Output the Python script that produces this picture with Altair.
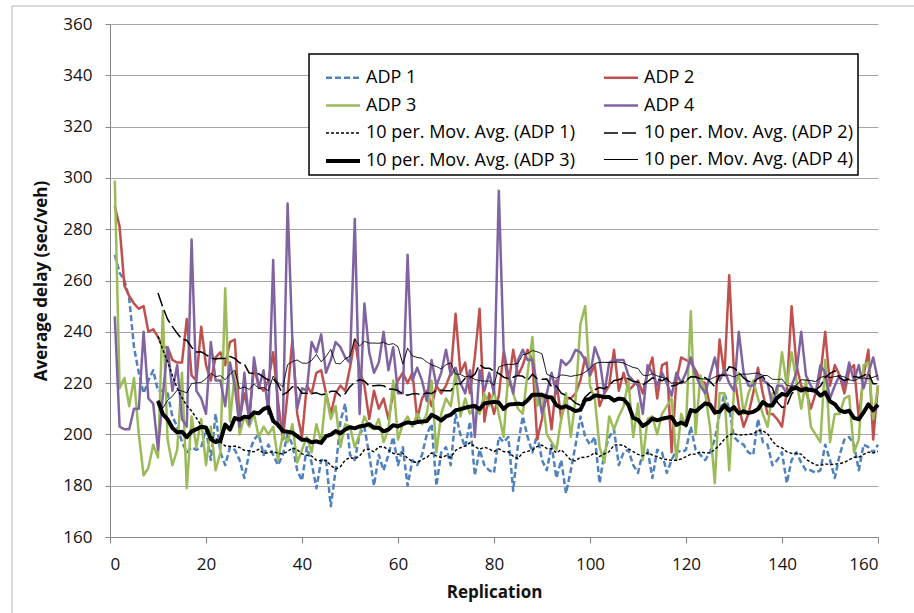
import altair as alt
import pandas as pd

# Replication index (x axis)
replication = list(range(1, 161))

# Average delay (sec/veh) per replication for each ADP
adp1 = [
    270, 263, 260, 253, 234, 224, 216, 221, 225, 217,
    217, 216, 207, 203, 197, 193, 195, 194, 195, 202,
    190, 208, 193, 188, 195, 194, 190, 183, 193, 198,
    200, 192, 196, 192, 188, 192, 200, 196, 186, 182,
    195, 189, 179, 190, 190, 172, 186, 205, 212, 192,
    190, 200, 203, 192, 180, 192, 186, 192, 199, 188,
    195, 180, 190, 188, 192, 200, 204, 180, 193, 195,
    188, 208, 200, 195, 205, 184, 194, 188, 186, 185,
    199, 197, 199, 178, 196, 207, 199, 193, 200, 190,
    186, 196, 183, 190, 177, 186, 196, 207, 199, 196,
    199, 181, 193, 199, 202, 188, 193, 194, 188, 185,
    193, 194, 183, 194, 193, 185, 190, 194, 193, 194,
    203, 194, 192, 190, 193, 198, 208, 216, 210, 199,
    197, 196, 193, 192, 206, 197, 196, 188, 190, 193,
    181, 190, 193, 189, 186, 186, 185, 186, 196, 190,
    183, 192, 198, 199, 196, 186, 196, 195, 193, 196,
]

adp2 = [
    289, 281, 258, 254, 251, 249, 250, 240, 241, 238,
    234, 234, 229, 228, 228, 245, 223, 221, 242, 227,
    221, 230, 232, 227, 236, 237, 206, 216, 207, 226,
    219, 217, 221, 232, 213, 198, 216, 237, 208, 199,
    219, 216, 224, 225, 216, 208, 216, 219, 217, 226,
    237, 225, 219, 206, 217, 210, 214, 206, 216, 221,
    224, 220, 224, 206, 214, 217, 211, 219, 216, 219,
    224, 247, 224, 228, 216, 230, 249, 205, 216, 208,
    215, 232, 219, 233, 223, 227, 233, 229, 198, 206,
    216, 202, 221, 206, 214, 214, 216, 221, 230, 223,
    227, 211, 216, 219, 233, 217, 224, 217, 219, 221,
    216, 224, 230, 214, 227, 228, 193, 221, 230, 229,
    228, 225, 221, 220, 211, 208, 237, 223, 262, 224,
    211, 203, 208, 216, 226, 216, 208, 208, 206, 203,
    217, 250, 227, 219, 217, 210, 216, 223, 240, 219,
    227, 223, 216, 225, 227, 206, 223, 233, 198, 219,
]

adp3 = [
    299, 218, 222, 211, 222, 200, 184, 187, 196, 191,
    248, 198, 188, 194, 224, 179, 207, 195, 206, 188,
    203, 186, 193, 257, 205, 224, 200, 207, 203, 208,
    199, 203, 200, 203, 190, 200, 197, 204, 189, 194,
    199, 193, 204, 197, 216, 206, 211, 195, 204, 203,
    195, 200, 207, 203, 202, 206, 197, 202, 221, 198,
    204, 207, 203, 208, 204, 208, 221, 193, 208, 214,
    211, 224, 207, 214, 208, 211, 208, 216, 211, 217,
    208, 199, 224, 216, 210, 208, 224, 238, 211, 216,
    200, 197, 194, 206, 216, 199, 214, 243, 250, 219,
    214, 195, 189, 207, 202, 207, 211, 221, 199, 212,
    190, 206, 207, 200, 208, 211, 214, 190, 208, 203,
    248, 200, 223, 216, 203, 181, 216, 216, 186, 217,
    224, 208, 216, 221, 214, 208, 203, 216, 216, 232,
    219, 232, 221, 210, 221, 203, 200, 197, 229, 197,
    208, 208, 214, 215, 193, 198, 227, 228, 206, 219,
]

adp4 = [
    246, 203, 202, 202, 210, 210, 240, 214, 212, 194,
    215, 234, 217, 227, 206, 203, 276, 217, 214, 208,
    236, 221, 221, 211, 228, 219, 203, 224, 204, 230,
    218, 225, 208, 268, 203, 202, 290, 236, 210, 218,
    217, 236, 232, 239, 224, 229, 236, 234, 230, 228,
    284, 208, 251, 232, 224, 228, 240, 225, 234, 216,
    216, 270, 221, 226, 221, 213, 229, 219, 224, 233,
    223, 226, 220, 216, 225, 199, 225, 217, 224, 216,
    295, 233, 223, 216, 229, 233, 229, 229, 219, 208,
    216, 224, 216, 229, 227, 229, 233, 232, 229, 223,
    234, 229, 216, 228, 229, 229, 229, 223, 221, 219,
    208, 227, 224, 219, 224, 220, 215, 224, 220, 224,
    230, 223, 219, 216, 223, 230, 221, 225, 220, 217,
    240, 224, 219, 219, 224, 221, 220, 211, 219, 219,
    216, 219, 224, 240, 223, 219, 216, 227, 224, 214,
    219, 223, 219, 228, 221, 227, 218, 224, 230, 221,
]

raw_names = ["ADP 1", "ADP 2", "ADP 3", "ADP 4"]
ma_names = ["10 per. Mov. Avg. (" + n + ")" for n in raw_names]

# Legend fills column by column: left column ADP 1, ADP 3, MA 1, MA 3,
# right column ADP 2, ADP 4, MA 2, MA 4
series_order = [raw_names[0], raw_names[2], ma_names[0], ma_names[2],
                raw_names[1], raw_names[3], ma_names[1], ma_names[3]]

style = {
    "ADP 1": ("#4f81bd", 2.5, [6, 3]),
    "ADP 2": ("#c0504d", 2.5, [1, 0]),
    "ADP 3": ("#9bbb59", 2.5, [1, 0]),
    "ADP 4": ("#8064a2", 2.5, [1, 0]),
    ma_names[0]: ("#000000", 1.4, [3, 2]),
    ma_names[1]: ("#000000", 1.5, [14, 4]),
    ma_names[2]: ("#000000", 4, [1, 0]),
    ma_names[3]: ("#000000", 1, [1, 0]),
}
series_colors = [style[s][0] for s in series_order]
series_widths = [style[s][1] for s in series_order]
series_dashes = [style[s][2] for s in series_order]

rows = []
for name, values in zip(raw_names, [adp1, adp2, adp3, adp4]):
    for rep, val in zip(replication, values):
        rows.append({"replication": rep, "series": name, "delay": val})
df = pd.DataFrame(rows)

FONT = "Open Sans"
TEXT = "#111111"
AXIS_GREY = "#868686"

legend = alt.Legend(
    title=None,
    orient="none",
    legendX=199,
    legendY=30,
    columns=2,
)

x_enc = alt.X(
    "replication:Q",
    title="Replication",
    scale=alt.Scale(domain=[0, 160], nice=False),
    axis=alt.Axis(
        values=list(range(0, 161, 20)),
        grid=False,
        tickSize=6,
        labelPadding=13,
        titlePadding=12,
    ),
)


def y_enc(field):
    return alt.Y(
        field,
        title="Average delay (sec/veh)",
        scale=alt.Scale(domain=[160, 360], nice=False, zero=False),
        axis=alt.Axis(
            values=list(range(160, 361, 20)),
            grid=True,
            tickSize=5,
            labelPadding=13,
            titlePadding=12,
        ),
    )


color_enc = alt.Color("series:N", scale=alt.Scale(domain=series_order, range=series_colors), legend=legend)
dash_enc = alt.StrokeDash("series:N", scale=alt.Scale(domain=series_order, range=series_dashes), legend=legend)
width_enc = alt.StrokeWidth(
    "series:N",
    scale=alt.Scale(type="ordinal", domain=series_order, range=series_widths),
    legend=legend,
)

raw_lines = alt.Chart(df).mark_line(strokeJoin="round").encode(
    x=x_enc,
    y=y_enc("delay:Q"),
    color=color_enc,
    strokeDash=dash_enc,
    strokeWidth=width_enc,
)

# 10-period trailing moving average of each ADP series
ma_lines = (
    alt.Chart(df)
    .transform_window(
        avg="mean(delay)",
        n="count()",
        frame=[-9, 0],
        groupby=["series"],
        sort=[alt.SortField("replication")],
    )
    .transform_filter("datum.n >= 10")
    .transform_calculate(series="'10 per. Mov. Avg. (' + datum.series + ')'")
    .mark_line(strokeJoin="round")
    .encode(
        x=x_enc,
        y=y_enc("avg:Q"),
        color=color_enc,
        strokeDash=dash_enc,
        strokeWidth=width_enc,
    )
)

# Light chart-area frame on the left and top edges
frame_df = pd.DataFrame({"k": [0]})
frame_left = alt.Chart(frame_df).mark_rule(color="#b4b4b4", strokeWidth=1).encode(
    x=alt.value(-98), y=alt.value(-18), y2=alt.value(589)
)
frame_top = alt.Chart(frame_df).mark_rule(color="#b4b4b4", strokeWidth=1).encode(
    x=alt.value(-98), x2=alt.value(804), y=alt.value(-18)
)

chart = (
    alt.layer(raw_lines, ma_lines, frame_left, frame_top)
    .properties(
        width=768,
        height=513,
        autosize=alt.AutoSizeParams(type="none"),
        padding={"left": 110, "top": 24, "right": 36, "bottom": 76},
        background="white",
    )
    .configure_view(strokeWidth=0)
    .configure_axis(
        labelFont=FONT,
        labelFontSize=17,
        labelColor=TEXT,
        titleFont=FONT,
        titleFontSize=17,
        titleFontWeight="bold",
        titleColor=TEXT,
        domainColor=AXIS_GREY,
        tickColor=AXIS_GREY,
        gridColor="#a6a6a6",
        gridWidth=1.2,
    )
    .configure_legend(
        symbolType="stroke",
        symbolSize=1156,
        labelFont=FONT,
        labelFontSize=18,
        labelColor="#000000",
        labelOffset=4,
        symbolOffset=10,
        padding=5,
        rowPadding=0,
        columnPadding=17,
        fillColor="white",
        strokeColor="#000000",
        strokeWidth=1.5,
        labelLimit=400,
    )
)

chart.save("out.html", embed_options={"renderer": "svg", "actions": False})
